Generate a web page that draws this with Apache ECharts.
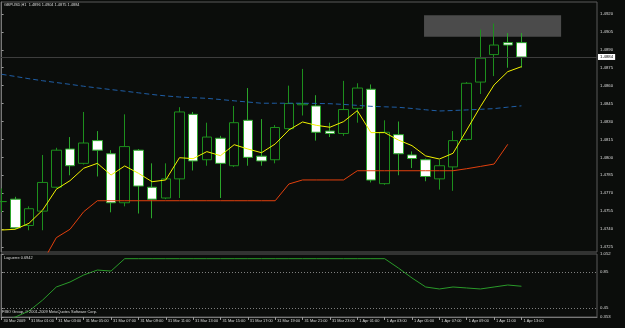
<!DOCTYPE html>
<html><head><meta charset="utf-8">
<script src="https://cdn.jsdelivr.net/npm/echarts@6/dist/echarts.min.js"></script>
<style>html,body{margin:0;padding:0;background:#0b0d0b}#c{width:625px;height:328px}</style>
</head><body><div id="c"></div>
<script>
const symbol = 'GBPUSD,H1';
const tickIndex = [0,2,4,6,8,10,12,14,16,18,20,22,24,26,28,30,32,34,36,38];
const tickLabels = ['30 Mar 2009','31 Mar 01:00','31 Mar 03:00','31 Mar 05:00','31 Mar 07:00','31 Mar 09:00','31 Mar 11:00','31 Mar 13:00','31 Mar 15:00','31 Mar 17:00','31 Mar 19:00','31 Mar 21:00','31 Mar 23:00','1 Apr 01:00','1 Apr 03:00','1 Apr 05:00','1 Apr 07:00','1 Apr 09:00','1 Apr 11:00','1 Apr 13:00'];
const priceTicks = [1.4725,1.4740,1.4755,1.4770,1.4785,1.4800,1.4815,1.4830,1.4845,1.4860,1.4875,1.4890,1.4905,1.4920];

const opens  = [1.4763,1.4765,1.4743,1.4755,1.4775,1.4807,1.4795,1.4814,1.4803,1.4762,1.4806,1.4775,1.4766,1.4782,1.4836,1.4798,1.4816,1.4793,1.4831,1.4801,1.4798,1.4824,1.4844,1.4843,1.4822,1.4820,1.4841,1.4857,1.4778,1.4819,1.4802,1.4798,1.4782,1.4792,1.4815,1.4863,1.4886,1.4896,1.4896];
const closes = [1.4763,1.4741,1.4757,1.4779,1.4806,1.4793,1.4812,1.4806,1.4762,1.4809,1.4776,1.4765,1.4782,1.4838,1.4797,1.4817,1.4795,1.4829,1.4800,1.4797,1.4825,1.4845,1.4845,1.4821,1.4820,1.4840,1.4858,1.4781,1.4821,1.4803,1.4799,1.4784,1.4793,1.4814,1.4862,1.4883,1.4894,1.4894,1.4884];
const highs  = [1.4774,1.4767,1.4759,1.4802,1.4808,1.4817,1.4838,1.4822,1.4806,1.4836,1.4807,1.4795,1.4795,1.4842,1.4838,1.4829,1.4818,1.4843,1.4858,1.4832,1.4827,1.4860,1.4874,1.4852,1.4829,1.4864,1.4862,1.4861,1.4831,1.4830,1.4805,1.4799,1.4798,1.4822,1.4863,1.4907,1.4912,1.4904,1.4904];
const lows   = [1.4754,1.4740,1.4739,1.4739,1.4774,1.4785,1.4794,1.4784,1.4754,1.4759,1.4753,1.4749,1.4765,1.4766,1.4789,1.4793,1.4766,1.4792,1.4793,1.4793,1.4795,1.4823,1.4835,1.4814,1.4817,1.4818,1.4829,1.4779,1.4777,1.4785,1.4791,1.4780,1.4773,1.4772,1.4814,1.4853,1.4868,1.4875,1.4875];

const fastMA = [1.47392,1.47398,1.47448,1.47559,1.47733,1.47805,1.47909,1.47950,1.47852,1.47928,1.47867,1.47796,1.47811,1.47997,1.47989,1.48048,1.48014,1.48106,1.48070,1.48039,1.48112,1.48229,1.48296,1.48268,1.48252,1.48299,1.48391,1.48207,1.48207,1.48145,1.48098,1.48012,1.47986,1.48034,1.48229,1.48424,1.48606,1.48717,1.48759];
const lowerStop = [null,null,null,1.47124,1.47328,1.47398,1.47545,1.47637,1.47637,1.47637,1.47637,1.47637,1.47637,1.47637,1.47637,1.47637,1.47637,1.47637,1.47637,1.47637,1.47637,1.47777,1.47811,1.47811,1.47811,1.47811,1.47888,1.47888,1.47888,1.47888,1.47888,1.47888,1.47888,1.47888,1.47905,1.47924,1.47944,1.48109,null];
const slowMA = [1.48695,1.48677,1.48658,1.48641,1.48626,1.48611,1.48595,1.48581,1.48567,1.48554,1.48540,1.48526,1.48514,1.48505,1.48499,1.48494,1.48484,1.48473,1.48463,1.48453,1.48453,1.48453,1.48453,1.48451,1.48449,1.48443,1.48435,1.48427,1.48423,1.48419,1.48409,1.48398,1.48388,1.48392,1.48397,1.48402,1.48408,1.48420,1.48431];

const laguerre = [0.297,0.353,0.419,0.541,0.686,0.741,0.819,0.874,0.863,1,1,1,1,1,1,1,1,1,1,1,1,1,1,1,1,1,1,1,1,0.897,0.786,0.686,0.664,0.686,0.675,0.664,0.686,0.708,0.6942];
const laguerreLevels = [0.45, 0.85];
const indTicks = [0.353, 0.45, 0.85, 1.052];
const indTickLabels = ['0.353', '0.45', '0.85', '1.052'];

const zoneBox = [30.88, 1.4919, 40.9, 1.4901];

const n = opens.length;
const idx = opens.map((_, i) => i);
const last = n - 1;
const fmt = v => v.toFixed(4);
const FONT = 'Liberation Sans';
const FS = 4.3;
const FSX = 3.9;
const TXT = '#dcdcdc';

const xMin = -0.044, xMax = 43.523;

const chart = echarts.init(document.getElementById('c'), null, {renderer: 'canvas'});
chart.setOption({
  backgroundColor: '#0b0d0b',
  animation: false,
  title: [
    {text: symbol + '  ' + [opens[last], highs[last], lows[last], closes[last]].map(fmt).join(' '), left: 4, top: 3, padding: 0,
     textStyle: {fontSize: FSX, color: TXT, fontWeight: 'normal', fontFamily: FONT}},
    {text: 'Laguerre ' + fmt(laguerre[last]), left: 4, top: 256, padding: 0,
     textStyle: {fontSize: FSX, color: TXT, fontWeight: 'normal', fontFamily: FONT}},
    {text: 'FIBO Group, \u00a9 2001-2009 MetaQuotes Software Corp.', left: 2, top: 310, padding: 0,
     textStyle: {fontSize: FSX, color: TXT, fontWeight: 'normal', fontFamily: FONT}}
  ],
  grid: [
    {left: 1, right: 28, top: 2, height: 250, show: true, borderColor: '#5a5a5a', borderWidth: 1, backgroundColor: 'transparent'},
    {left: 1, right: 28, top: 254, height: 63, show: true, borderColor: '#5a5a5a', borderWidth: 1, backgroundColor: 'transparent'}
  ],
  xAxis: [
    {type: 'value', gridIndex: 0, min: xMin, max: xMax, axisLine: {show: false}, axisTick: {show: false}, axisLabel: {show: false}, splitLine: {show: false}},
    {type: 'value', gridIndex: 1, min: xMin, max: xMax,
     axisLine: {show: true, lineStyle: {color: '#777'}},
     axisTick: {show: true, customValues: tickIndex, length: 3, lineStyle: {color: '#999'}},
     axisLabel: {show: true, customValues: tickIndex, formatter: v => tickLabels[Math.round(v / 2)] || '', align: 'left', margin: 2, padding: [0, 0, 0, 2],
                 fontSize: FSX, color: TXT, fontFamily: FONT},
     splitLine: {show: false}}
  ],
  yAxis: [
    {type: 'value', gridIndex: 0, position: 'right', min: 1.47208, max: 1.49300, scale: true,
     axisLine: {show: true, lineStyle: {color: '#777'}},
     axisTick: {show: true, customValues: priceTicks, length: 2, lineStyle: {color: '#999'}},
     axisLabel: {show: true, customValues: priceTicks, formatter: v => fmt(v), margin: 3, fontSize: FS, color: TXT, fontFamily: FONT},
     splitLine: {show: false}},
    {type: 'value', gridIndex: 1, position: 'right', min: 0.353, max: 1.052, scale: true,
     axisLine: {show: true, lineStyle: {color: '#777'}},
     axisTick: {show: true, customValues: indTicks, length: 2, lineStyle: {color: '#999'}},
     axisLabel: {show: true, customValues: indTicks, formatter: v => indTickLabels[indTicks.indexOf(v)] || String(v), margin: 3, fontSize: FS, color: TXT, fontFamily: FONT},
     splitLine: {show: false}}
  ],
  series: [
    {type: 'custom', xAxisIndex: 0, yAxisIndex: 0, z: 1, silent: true,
     data: [zoneBox], encode: {x: [0, 2], y: [1, 3]},
     renderItem: (params, api) => {
       const a = api.coord([api.value(0), api.value(1)]);
       const b = api.coord([api.value(2), api.value(3)]);
       return {type: 'rect', shape: {x: a[0], y: a[1], width: b[0] - a[0], height: b[1] - a[1]}, style: {fill: '#4b4b4b'}};
     }},
    {type: 'candlestick', xAxisIndex: 0, yAxisIndex: 0, z: 3, barWidth: 10, clip: true,
     data: idx.map(i => [i, opens[i], closes[i], lows[i], highs[i]]),
     encode: {x: 0, y: [1, 2, 3, 4]},
     itemStyle: {color: '#0b0d0b', borderColor: '#1d8f1d', color0: '#ffffff', borderColor0: '#2aa52a', borderWidth: 1},
     markLine: {silent: true, symbol: ['none', 'none'], precision: 4,
       lineStyle: {color: '#3d3d3d', width: 1, type: 'solid'},
       label: {show: true, position: 'end', distance: 1, formatter: p => fmt(p.value), backgroundColor: '#ffffff', color: '#000', fontSize: FS, fontFamily: FONT, padding: [1, 2]},
       data: [{yAxis: closes[last]}]}},
    {type: 'line', xAxisIndex: 0, yAxisIndex: 0, z: 4, symbol: 'none', data: idx.map(i => [i, slowMA[i]]),
     lineStyle: {color: '#1f5ea6', width: 1, type: [5, 3]}},
    {type: 'line', xAxisIndex: 0, yAxisIndex: 0, z: 4, symbol: 'none', data: idx.map(i => [i, lowerStop[i]]),
     lineStyle: {color: '#e2400e', width: 1}},
    {type: 'line', xAxisIndex: 0, yAxisIndex: 0, z: 5, symbol: 'none', data: idx.map(i => [i, fastMA[i]]),
     lineStyle: {color: '#f2f200', width: 1}},
    {type: 'line', xAxisIndex: 1, yAxisIndex: 1, z: 4, symbol: 'none', data: idx.map(i => [i, laguerre[i]]),
     lineStyle: {color: '#2a9a2a', width: 1},
     markLine: {silent: true, symbol: ['none', 'none'], label: {show: false},
       lineStyle: {color: '#808080', width: 1, type: [1, 2]},
       data: laguerreLevels.map(v => ({yAxis: v}))}}
  ]
});
</script></body></html>
